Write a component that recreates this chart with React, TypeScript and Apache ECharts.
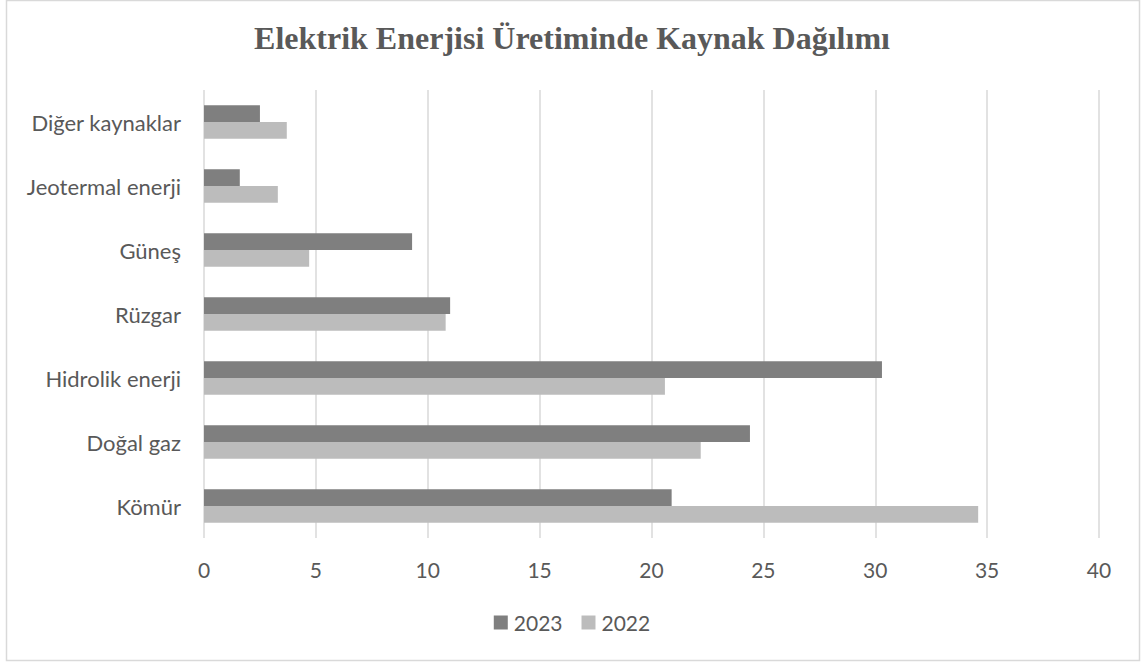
import React, { useEffect, useRef } from "react";
import * as echarts from "echarts";

const categories = ["Kömür", "Doğal gaz", "Hidrolik enerji", "Rüzgar", "Güneş", "Jeotermal enerji", "Diğer kaynaklar"];
const values2023 = [20.9, 24.4, 30.3, 11.0, 9.3, 1.6, 2.5];
const values2022 = [34.6, 22.2, 20.6, 10.8, 4.7, 3.3, 3.7];
const seriesNames = ["2023", "2022"];
const TITLE = "Elektrik Enerjisi Üretiminde Kaynak Dağılımı";

export default function App() {
  const ref = useRef<HTMLDivElement>(null);
  useEffect(() => {
    const chart = echarts.init(ref.current!, undefined, { renderer: "svg" });
    const font = "Lato, 'Open Sans', sans-serif";
    chart.setOption({
      animation: false,
      backgroundColor: "#ffffff",
      title: {
        text: TITLE,
        left: "center",
        top: 17,
        textStyle: { fontFamily: "'Liberation Serif', 'Times New Roman', serif", fontWeight: "bold", fontSize: 32, color: "#595959" },
      },
      graphic: [
        {
          type: "rect",
          shape: { x: 6.5, y: 0.5, width: 1133, height: 660 },
          style: { fill: "none", stroke: "#d9d9d9", lineWidth: 1.5 },
          silent: true,
        },
      ],
      legend: {
        data: seriesNames,
        top: 607,
        left: "center",
        itemWidth: 14,
        itemHeight: 14,
        itemGap: 19,
        icon: "rect",
        textStyle: { fontFamily: font, fontSize: 21, color: "#595959", padding: [0, 0, 0, 1] },
      },
      grid: { left: 204, right: 45, top: 90, bottom: 124, containLabel: false },
      xAxis: {
        type: "value",
        min: 0,
        max: 40,
        interval: 5,
        axisLine: { show: false },
        axisTick: { show: false },
        splitLine: { lineStyle: { color: "#d9d9d9", width: 1.5 } },
        axisLabel: { fontFamily: font, fontSize: 21, color: "#595959", margin: 21 },
      },
      yAxis: {
        type: "category",
        data: categories,
        axisLine: { show: false },
        axisTick: { show: false },
        axisLabel: { fontFamily: font, fontSize: 22, color: "#595959", margin: 23 },
      },
      series: [
        {
          name: "2023",
          type: "bar",
          data: values2023,
          itemStyle: { color: "#7f7f7f" },
          barGap: "0%",
          barCategoryGap: "48%",
        },
        {
          name: "2022",
          type: "bar",
          data: values2022,
          itemStyle: { color: "#bcbcbc" },
          barGap: "0%",
          barCategoryGap: "48%",
        },
      ],
    });
    return () => chart.dispose();
  }, []);
  return <div ref={ref} style={{ position: "absolute", left: 0, top: 0, width: 1144, height: 662 }} />;
}
